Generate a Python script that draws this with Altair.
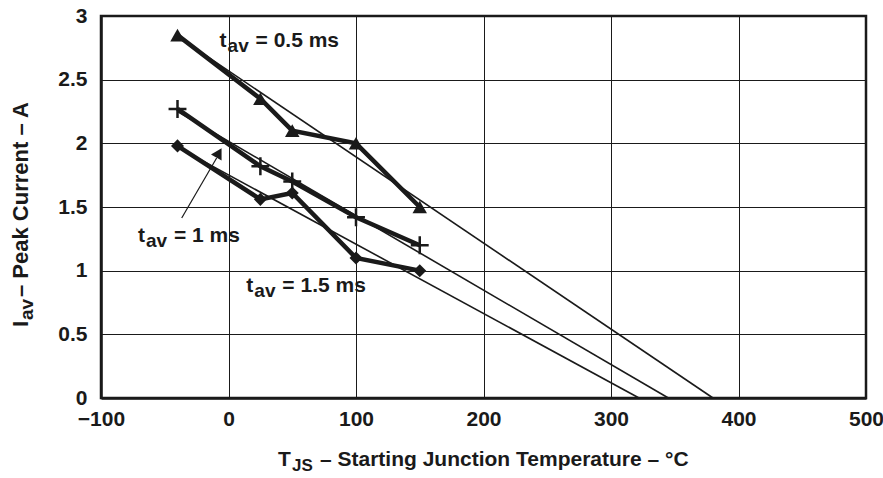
import altair as alt
import pandas as pd

FONT = "Liberation Sans"
INK = "#1a1a1a"

# Measured pulse-avalanche data: starting junction temperature (°C) vs peak current (A)
temps = [-40, 25, 50, 100, 150]
i_05ms = [2.85, 2.35, 2.10, 2.00, 1.50]
i_10ms = [2.27, 1.82, 1.70, 1.42, 1.20]
i_15ms = [1.98, 1.56, 1.61, 1.10, 1.00]

# Straight-line extrapolations to zero current (start point, end point)
fit_x0 = [-40, -40, -40]
fit_y0 = [2.84, 2.25, 1.97]
fit_x1 = [380, 345, 322]
fit_y1 = [0, 0, 0]
series = ["0.5 ms", "1 ms", "1.5 ms"]

# Curve labels: anchor (temperature, current) of each label
label_rest = ["= 0.5 ms", "= 1 ms", "= 1.5 ms"]
label_x = [-7, -71, 14]
label_y = [2.755, 1.225, 0.835]

# Arrow pointing from the 1 ms label to its curve
arrow_x = [-36.7, -9.3]
arrow_y = [1.414, 1.885]
arrow_head = (-7.5, 1.925)

meas = pd.DataFrame({
    "T": temps * 3,
    "I": i_05ms + i_10ms + i_15ms,
    "s": [series[0]] * 5 + [series[1]] * 5 + [series[2]] * 5,
})
fits = pd.DataFrame({
    "T": fit_x0 + fit_x1,
    "I": fit_y0 + fit_y1,
    "s": series + series,
})
labels = pd.DataFrame({"T": label_x, "I": label_y, "rest": label_rest})

xs = alt.Scale(domain=[-100, 500], nice=False, zero=False)
ys = alt.Scale(domain=[0, 3], nice=False)
X = alt.X("T:Q", scale=xs, axis=alt.Axis(values=[-100, 0, 100, 200, 300, 400, 500],
                                         title=None, labelFlush=False))
Y = alt.Y("I:Q", scale=ys, axis=alt.Axis(values=[0, 0.5, 1, 1.5, 2, 2.5, 3],
                                         title=None, format="~g", labelFlush=False))

base = alt.Chart(meas)

fit_lines = alt.Chart(fits).mark_line(color=INK, strokeWidth=1.6).encode(
    x=X, y=Y, detail="s:N")

thick = base.mark_line(color=INK, strokeWidth=4.5).encode(x=X, y=Y, detail="s:N")

tri = base.transform_filter(alt.datum.s == series[0]).mark_point(
    shape="triangle-up", filled=True, color=INK, size=210, opacity=1).encode(x=X, y=Y)
plus = base.transform_filter(alt.datum.s == series[1]).mark_point(
    shape="M-1,0H1M0,-1V1", filled=False, color=INK, size=320, strokeWidth=2.5,
    opacity=1).encode(x=X, y=Y)
dia = base.transform_filter(alt.datum.s == series[2]).mark_point(
    shape="diamond", filled=True, color=INK, size=170, opacity=1).encode(x=X, y=Y)

txt_style = dict(font=FONT, fontWeight="bold", color=INK, align="left",
                 baseline="alphabetic")
lab = alt.Chart(labels)
lab_t = lab.mark_text(fontSize=21, text="t", **txt_style).encode(x=X, y=Y)
lab_av = lab.mark_text(fontSize=19, text="av", dx=8, dy=5, **txt_style).encode(x=X, y=Y)
lab_rest = lab.mark_text(fontSize=21, dx=36, **txt_style).encode(x=X, y=Y, text="rest:N")

arrow_line = alt.Chart(pd.DataFrame({"T": arrow_x, "I": arrow_y})).mark_line(
    color=INK, strokeWidth=1.2).encode(x=X, y=Y)
arrow_tip = alt.Chart(pd.DataFrame({"T": [arrow_head[0]], "I": [arrow_head[1]]})).mark_point(
    shape="triangle-up", filled=True, color=INK, size=150, angle=30, opacity=1
).encode(x=X, y=Y)

# Axis titles with subscripts, placed in pixel space around the plot area
title_style = dict(font=FONT, fontWeight="bold", color=INK, align="left",
                   baseline="alphabetic")
one = pd.DataFrame({"k": [0]})
xt_main = alt.Chart(one).mark_text(fontSize=21, text="T", **title_style).encode(
    x=alt.value(177), y=alt.value(450))
xt_sub = alt.Chart(one).mark_text(fontSize=17, text="JS", **title_style).encode(
    x=alt.value(191), y=alt.value(455))
xt_rest = alt.Chart(one).mark_text(
    fontSize=21, text="– Starting Junction Temperature – °C", **title_style).encode(
    x=alt.value(219), y=alt.value(450))

yt_main = alt.Chart(one).mark_text(fontSize=22, text="I", angle=270, **title_style).encode(
    x=alt.value(-73), y=alt.value(311))
yt_sub = alt.Chart(one).mark_text(fontSize=19, text="av", angle=270, **title_style).encode(
    x=alt.value(-68), y=alt.value(304))
yt_rest = alt.Chart(one).mark_text(
    fontSize=22, text="– Peak Current – A", angle=270, **title_style).encode(
    x=alt.value(-73), y=alt.value(281))

chart = alt.layer(
    fit_lines, thick, tri, plus, dia, lab_t, lab_av, lab_rest, arrow_line, arrow_tip,
    xt_main, xt_sub, xt_rest, yt_main, yt_sub, yt_rest,
).properties(
    width=765, height=382,
    autosize=alt.AutoSizeParams(type="none"),
    padding={"left": 101, "top": 16, "right": 17, "bottom": 80},
    background="white",
).configure_view(
    stroke=INK, strokeWidth=2.5,
).configure_axis(
    grid=True, gridColor=INK, gridWidth=1, gridOpacity=1,
    domainColor=INK, domainWidth=2.5, ticks=False,
    labelFont=FONT, labelFontWeight="bold", labelFontSize=21, labelColor=INK,
).configure_axisX(
    labelPadding=10,
).configure_axisY(
    labelPadding=14,
)

chart.save("out.html", embed_options={"renderer": "svg", "actions": False})
